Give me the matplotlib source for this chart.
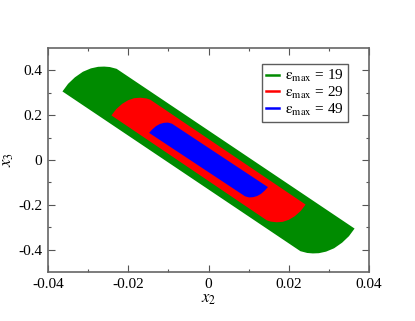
import matplotlib
matplotlib.use("Agg")
import matplotlib.pyplot as plt
from matplotlib.patches import Polygon
from matplotlib.lines import Line2D

plt.rcParams['font.family'] = ['Liberation Serif', 'DejaVu Serif']
plt.rcParams['mathtext.fontset'] = 'stix'

# Region boundaries (x2, x3)
# green, eps_max = 19
green_tl_x2 = [-0.0364, -0.0350, -0.0333, -0.0313, -0.0293, -0.0275, -0.0260, -0.0246, -0.0229]
green_tl_x3 = [0.306, 0.340, 0.369, 0.394, 0.409, 0.416, 0.417, 0.415, 0.407]
green_br_x2 = [0.0364, 0.0350, 0.0333, 0.0313, 0.0293, 0.0275, 0.0260, 0.0246, 0.0229]
green_br_x3 = [-0.306, -0.340, -0.369, -0.394, -0.409, -0.416, -0.417, -0.415, -0.407]
# red, eps_max = 29
red_tl_x2 = [-0.0242, -0.0230, -0.0215, -0.0200, -0.0185, -0.0170, -0.0155, -0.0145]
red_tl_x3 = [0.199, 0.227, 0.251, 0.267, 0.276, 0.278, 0.275, 0.269]
red_br_x2 = [0.0242, 0.0230, 0.0215, 0.0200, 0.0185, 0.0170, 0.0155, 0.0145]
red_br_x3 = [-0.199, -0.227, -0.251, -0.267, -0.276, -0.278, -0.275, -0.269]
# blue, eps_max = 49
blue_tl_x2 = [-0.0148, -0.0141, -0.0131, -0.0121, -0.0111, -0.0101, -0.0091]
blue_tl_x3 = [0.121, 0.135, 0.151, 0.161, 0.166, 0.167, 0.162]
blue_br_x2 = [0.0148, 0.0141, 0.0131, 0.0121, 0.0111, 0.0101, 0.0091]
blue_br_x3 = [-0.121, -0.135, -0.151, -0.161, -0.166, -0.167, -0.162]

labels = [r'$\mathrm{ε}_{\mathrm{max}}$ = 19', r'$\mathrm{ε}_{\mathrm{max}}$ = 29', r'$\mathrm{ε}_{\mathrm{max}}$ = 49']
colors = ['#008b00', '#ff0000', '#0000ff']

fig = plt.figure(figsize=(4.15, 3.21), dpi=100)
ax = fig.add_axes([0.1157, 0.1526, 0.7735, 0.6979])

regions = [
    (green_tl_x2, green_tl_x3, green_br_x2, green_br_x3),
    (red_tl_x2, red_tl_x3, red_br_x2, red_br_x3),
    (blue_tl_x2, blue_tl_x3, blue_br_x2, blue_br_x3),
]
for (tx, ty, bx, by), c in zip(regions, colors):
    pts = list(zip(tx, ty)) + list(zip(bx, by))
    ax.add_patch(Polygon(pts, closed=True, facecolor=c, edgecolor='none'))

ax.set_xlim(-0.04, 0.04)
ax.set_ylim(-0.5, 0.5)
ax.set_xticks([-0.04, -0.02, 0, 0.02, 0.04])
ax.set_xticklabels(['-0.04', '-0.02', '0', '0.02', '0.04'])
ax.set_xticks([-0.03, -0.01, 0.01, 0.03], minor=True)
ax.set_yticks([-0.4, -0.2, 0, 0.2, 0.4])
ax.set_yticklabels(['-0.4', '-0.2', '0', '0.2', '0.4'])
ax.set_yticks([-0.3, -0.1, 0.1, 0.3], minor=True)
ax.tick_params(which='both', direction='in', top=True, right=True, labelsize=11, colors='#555555', labelcolor='black')
ax.tick_params(which='major', length=5, width=0.8, pad=4)
ax.tick_params(which='minor', length=2.5, width=0.8)
for s in ax.spines.values():
    s.set_color('#666666')
    s.set_linewidth(1.2)

ax.set_xlabel(r'$x_2$', fontsize=12, labelpad=0)
ax.set_ylabel(r'$x_3$', fontsize=12, labelpad=2)

handles = [Line2D([], [], color=c, lw=1.8) for c in colors]
leg = ax.legend(handles, labels, loc='upper right', bbox_to_anchor=(0.935, 0.928),
                fontsize=11, frameon=True, fancybox=False, edgecolor='#333333',
                handlelength=0.9, handletextpad=0.4, borderpad=0.25, labelspacing=0.05,
                borderaxespad=0)
leg.get_frame().set_linewidth(1.0)

fig.savefig('out.png', dpi=100)
